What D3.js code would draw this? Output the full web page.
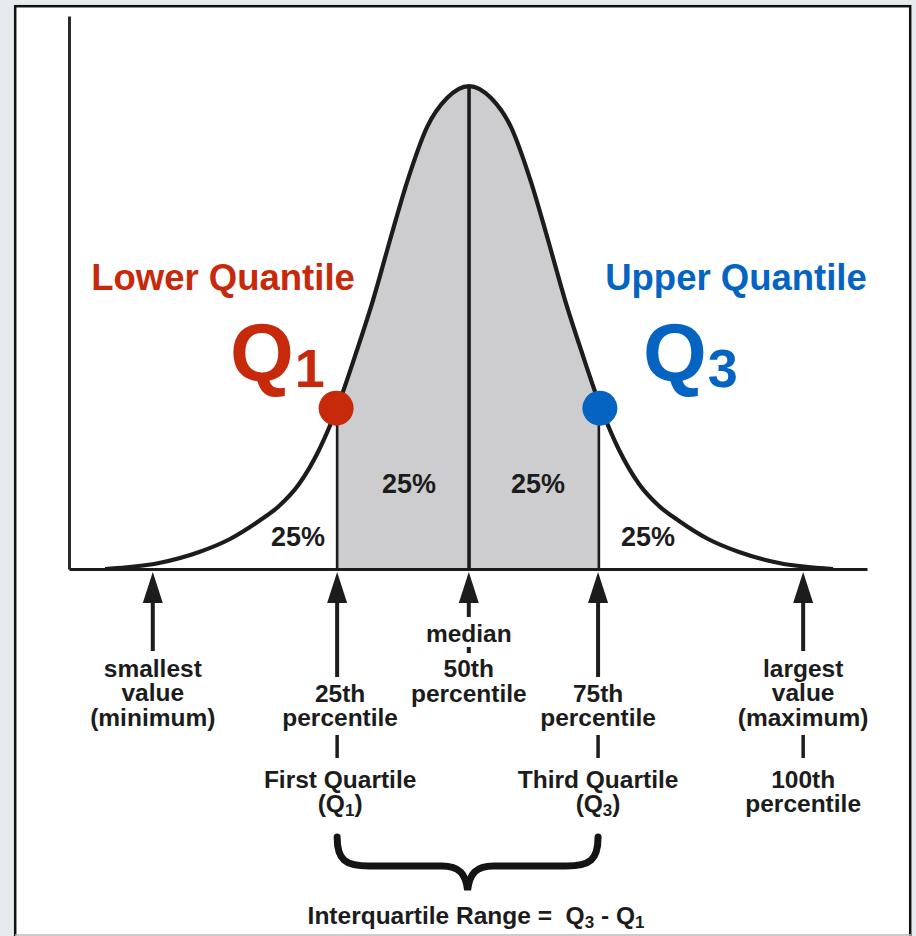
<!DOCTYPE html>
<html>
<head>
<meta charset="utf-8">
<script src="https://cdn.jsdelivr.net/npm/d3@7"></script>
<style>
  body { margin: 0; background: #e7ebef; }
  svg { display: block; }
  text { font-family: "Liberation Sans", Arial, sans-serif; }
</style>
</head>
<body>
<div id="chart"></div>
<script>
// curve (x in value units, y as % of peak height)
const curveX = [4.52, 11.28, 16.32, 20.18, 23.81, 26.32, 28.83, 31.33, 33.59, 36.09, 38.10, 40.23, 42.36, 44.87, 47.37, 50.13,
                52.89, 55.39, 57.90, 60.03, 62.16, 64.17, 66.67, 68.93, 71.43, 73.94, 76.45, 80.08, 83.96, 88.98, 95.74];
const curveY = [0, 1.24, 3.52, 6.21, 9.94, 13.04, 17.60, 24.64, 33.33, 45.34, 55.69, 68.12, 80.12, 91.51, 97.52, 100,
                97.52, 91.51, 80.12, 68.12, 55.69, 45.34, 33.33, 24.64, 17.60, 13.04, 9.94, 6.21, 3.52, 1.24, 0];

// Q1, median, Q3
const quartileX = [33.6, 50.13, 66.4];
const quartileY = [33.3, 100, 33.3];

// arrows below the axis: min, Q1, median, Q3, max
const arrowX = [10.5, 33.6, 50.1, 66.3, 92.0];
const arrowLabels = [
    ["smallest", "value", "(minimum)"],
    ["25th", "percentile"],
    ["median", "50th", "percentile"],
    ["75th", "percentile"],
    ["largest", "value", "(maximum)"]
];
const pctLabels = ["25%", "25%", "25%", "25%"];

const width = 916, height = 936;

const svg = d3.select("#chart")
    .append("svg")
    .attr("width", width)
    .attr("height", height);

// white panel with black frame
svg.append("rect")
    .attr("x", 15.2)
    .attr("y", 6.2)
    .attr("width", 895)
    .attr("height", 960)
    .attr("fill", "#fff")
    .attr("stroke", "#111")
    .attr("stroke-width", 2.5);

svg.append("line")
    .attr("x1", 15).attr("x2", 911)
    .attr("y1", 935).attr("y2", 935)
    .attr("stroke", "#bbb")
    .attr("stroke-width", 1.5);

const x = d3.scaleLinear().domain([0, 100]).range([69, 867]);
const y = d3.scaleLinear().domain([0, 114.5]).range([569, 16]);

const ink = "#1c1c1c";

// shaded middle 50%
svg.append("clipPath")
    .attr("id", "mid")
    .append("rect")
    .attr("x", x(quartileX[0]))
    .attr("y", 0)
    .attr("width", x(quartileX[2]) - x(quartileX[0]))
    .attr("height", y(0));

const pts = curveX.map((v, i) => [v, curveY[i]]);

const area = d3.area()
    .x(d => x(d[0]))
    .y0(y(0))
    .y1(d => y(d[1]))
    .curve(d3.curveMonotoneX);

svg.append("path")
    .datum(pts)
    .attr("d", area)
    .attr("clip-path", "url(#mid)")
    .attr("fill", "#cdcdcf");

// vertical quartile lines
svg.selectAll(".qline")
    .data(quartileX)
    .enter().append("line")
    .attr("class", "qline")
    .attr("x1", d => x(d))
    .attr("x2", d => x(d))
    .attr("y1", y(0))
    .attr("y2", (d, i) => y(quartileY[i]))
    .attr("stroke", ink)
    .attr("stroke-width", (d, i) => i === 1 ? 3.6 : 2.6);

// axes
const yAxis = d3.axisLeft(y).tickValues([]).tickSizeOuter(0);
const xAxis = d3.axisBottom(x).tickValues([]).tickSizeOuter(0);

svg.append("g")
    .attr("transform", `translate(${x(0)},0)`)
    .call(yAxis)
    .select(".domain")
    .attr("stroke", "#2a2a2a")
    .attr("stroke-width", 3);

svg.append("g")
    .attr("transform", `translate(0,${y(0)})`)
    .call(xAxis)
    .select(".domain")
    .attr("stroke", ink)
    .attr("stroke-width", 3);

// the curve
const line = d3.line()
    .x(d => x(d[0]))
    .y(d => y(d[1]))
    .curve(d3.curveMonotoneX);

svg.append("path")
    .datum(pts)
    .attr("d", line)
    .attr("fill", "none")
    .attr("stroke", ink)
    .attr("stroke-width", 4.2)
    .attr("stroke-linejoin", "round");

// percentage labels
const pctPos = [[298, 546], [409, 493], [538, 493], [648, 546]];
svg.selectAll(".pct")
    .data(pctLabels)
    .enter().append("text")
    .attr("class", "pct")
    .attr("x", (d, i) => pctPos[i][0])
    .attr("y", (d, i) => pctPos[i][1])
    .attr("text-anchor", "middle")
    .style("font-size", "27px")
    .style("font-weight", "bold")
    .attr("fill", ink)
    .text(d => d);

// Q1 / Q3 dots
const red = "#c7290b", blue = "#0564c2";
svg.append("circle")
    .attr("cx", x(quartileX[0]) - 1)
    .attr("cy", y(quartileY[0]))
    .attr("r", 17.5)
    .attr("fill", red);
svg.append("circle")
    .attr("cx", x(quartileX[2]) + 1)
    .attr("cy", y(quartileY[2]))
    .attr("r", 17.5)
    .attr("fill", blue);

svg.append("text")
    .attr("x", 223).attr("y", 290)
    .attr("text-anchor", "middle")
    .style("font-size", "36.5px")
    .style("font-weight", "bold")
    .attr("fill", red)
    .text("Lower Quantile");

svg.append("text")
    .attr("x", 736).attr("y", 290)
    .attr("text-anchor", "middle")
    .style("font-size", "36.5px")
    .style("font-weight", "bold")
    .attr("fill", blue)
    .text("Upper Quantile");

function bigQ(xPos, sub, color) {
    const t = svg.append("text")
        .attr("x", xPos).attr("y", 381)
        .style("font-size", "82px")
        .style("font-weight", "bold")
        .attr("fill", color);
    t.append("tspan").text("Q");
    t.append("tspan")
        .attr("dy", 6)
        .attr("dx", 1)
        .style("font-size", "54px")
        .text(sub);
}
bigQ(230, "1", red);
bigQ(643, "3", blue);

// arrows pointing up at the axis
const shaftEnd = [651, 677, 617, 677, 651];
arrowX.forEach((v, i) => {
    const cx = x(v);
    svg.append("path")
        .attr("d", `M${cx},${y(0) + 3} L${cx - 10},${y(0) + 34} L${cx + 10},${y(0) + 34} Z`)
        .attr("fill", ink);
    svg.append("line")
        .attr("x1", cx).attr("x2", cx)
        .attr("y1", y(0) + 30).attr("y2", shaftEnd[i])
        .attr("stroke", ink)
        .attr("stroke-width", 4);
});

// labels under the arrows
const labelBase = [[677, 701, 726], [702, 726], [642, 677, 702], [702, 726], [677, 701, 726]];
arrowLabels.forEach((lines, i) => {
    lines.forEach((s, j) => {
        svg.append("text")
            .attr("x", x(arrowX[i]) + (i === 1 ? 3 : 0))
            .attr("y", labelBase[i][j])
            .attr("text-anchor", "middle")
            .style("font-size", "24.5px")
            .style("font-weight", "bold")
            .attr("fill", ink)
            .text(s);
    });
});

// small dot between median and 50th
svg.append("line")
    .attr("x1", x(arrowX[2])).attr("x2", x(arrowX[2]))
    .attr("y1", 647).attr("y2", 653)
    .attr("stroke", ink)
    .attr("stroke-width", 4);

// connector ticks under Q1, Q3, max
[1, 3, 4].forEach(i => {
    svg.append("line")
        .attr("x1", x(arrowX[i])).attr("x2", x(arrowX[i]))
        .attr("y1", 735).attr("y2", 758)
        .attr("stroke", ink)
        .attr("stroke-width", 3.5);
});

// second row of labels
function subLabel(cx, yPos, pre, sub, post) {
    const t = svg.append("text")
        .attr("x", cx).attr("y", yPos)
        .attr("text-anchor", "middle")
        .style("font-size", "24.5px")
        .style("font-weight", "bold")
        .attr("fill", ink);
    t.append("tspan").text(pre);
    t.append("tspan").attr("dy", 4).style("font-size", "17px").text(sub);
    t.append("tspan").attr("dy", -4).text(post);
    return t;
}

const secondRow = [
    [x(arrowX[1]) + 3, "First Quartile", "1"],
    [x(arrowX[3]), "Third Quartile", "3"]
];
secondRow.forEach(([cx, title, sub]) => {
    svg.append("text")
        .attr("x", cx).attr("y", 788)
        .attr("text-anchor", "middle")
        .style("font-size", "24.5px")
        .style("font-weight", "bold")
        .attr("fill", ink)
        .text(title);
    subLabel(cx, 812, "(Q", sub, ")");
});

["100th", "percentile"].forEach((s, j) => {
    svg.append("text")
        .attr("x", x(arrowX[4])).attr("y", 788 + j * 24)
        .attr("text-anchor", "middle")
        .style("font-size", "24.5px")
        .style("font-weight", "bold")
        .attr("fill", ink)
        .text(s);
});

// curly brace spanning Q1..Q3
const bx0 = x(arrowX[1]), bx1 = x(arrowX[3]), bm = (bx0 + bx1) / 2;
svg.append("path")
    .attr("d", `M${bx0},837 C${bx0},860 ${bx0 + 8},866 ${bx0 + 32},866
                L${bm - 26},866 C${bm - 8},866 ${bm - 2},874 ${bm},890
                C${bm + 2},874 ${bm + 8},866 ${bm + 26},866
                L${bx1 - 32},866 C${bx1 - 8},866 ${bx1},860 ${bx1},837`)
    .attr("fill", "none")
    .attr("stroke", "#141414")
    .attr("stroke-width", 7)
    .attr("stroke-linecap", "round");

// IQR formula
const iqr = svg.append("text")
    .attr("x", 476).attr("y", 924)
    .attr("text-anchor", "middle")
    .style("font-size", "24.5px")
    .style("font-weight", "bold")
    .style("white-space", "pre")
    .attr("fill", ink);
iqr.append("tspan").text("Interquartile Range =  Q");
iqr.append("tspan").attr("dy", 4).style("font-size", "17px").text("3");
iqr.append("tspan").attr("dy", -4).text(" - Q");
iqr.append("tspan").attr("dy", 4).style("font-size", "17px").text("1");
</script>
</body>
</html>
